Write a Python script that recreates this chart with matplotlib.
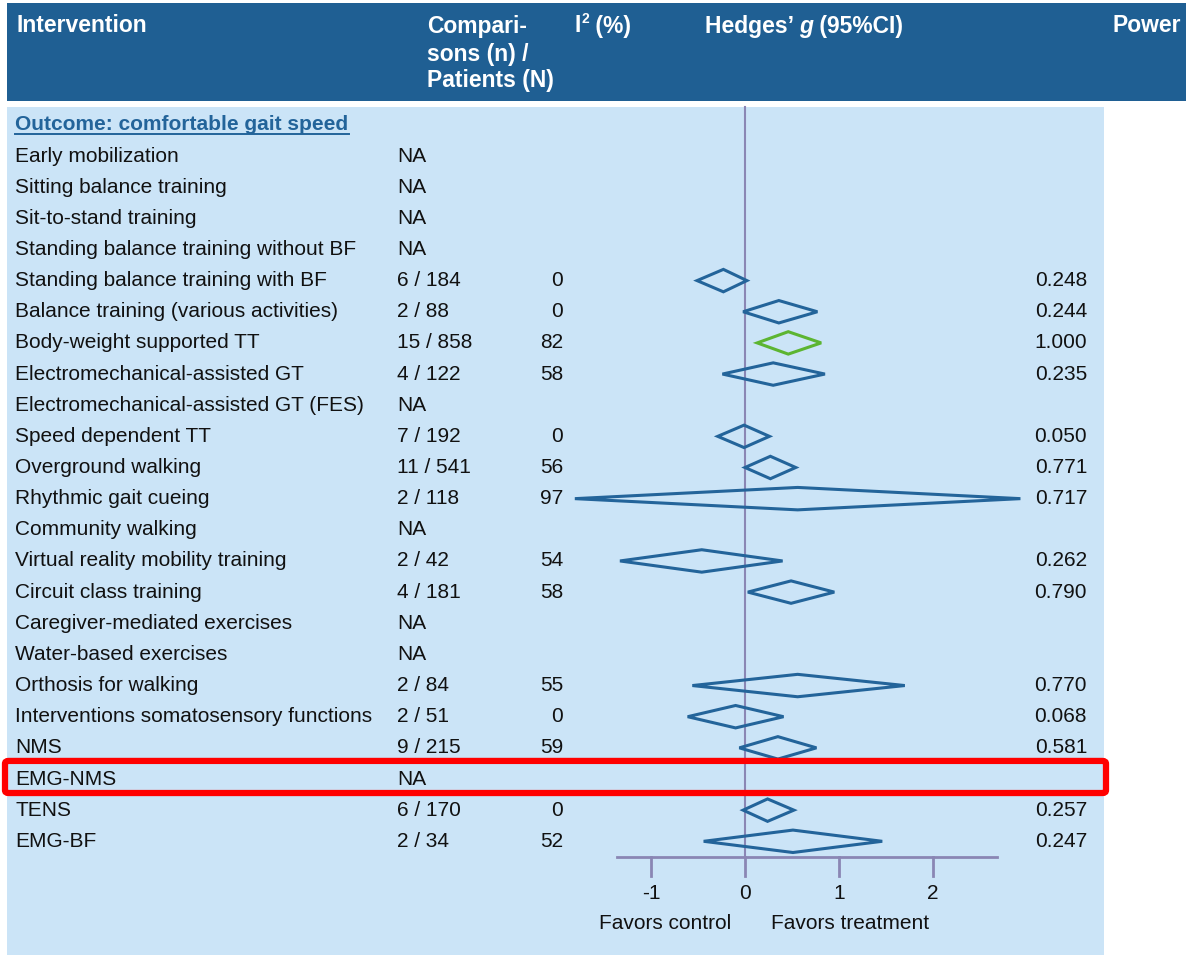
import numpy as np
import matplotlib
matplotlib.use("Agg")
import matplotlib.pyplot as plt
from matplotlib.patches import Rectangle, Polygon, FancyBboxPatch
from matplotlib.transforms import blended_transform_factory

plt.rcParams['font.family'] = ['Liberation Sans', 'DejaVu Sans']

# ---- data ----
interventions = [
    "Early mobilization", "Sitting balance training", "Sit-to-stand training",
    "Standing balance training without BF", "Standing balance training with BF",
    "Balance training (various activities)", "Body-weight supported TT",
    "Electromechanical-assisted GT", "Electromechanical-assisted GT (FES)",
    "Speed dependent TT", "Overground walking", "Rhythmic gait cueing",
    "Community walking", "Virtual reality mobility training",
    "Circuit class training", "Caregiver-mediated exercises",
    "Water-based exercises", "Orthosis for walking",
    "Interventions somatosensory functions", "NMS", "EMG-NMS", "TENS", "EMG-BF",
]
comparisons = ["NA", "NA", "NA", "NA", "6 / 184", "2 / 88", "15 / 858",
               "4 / 122", "NA", "7 / 192", "11 / 541", "2 / 118", "NA",
               "2 / 42", "4 / 181", "NA", "NA", "2 / 84", "2 / 51", "9 / 215",
               "NA", "6 / 170", "2 / 34"]
i2 = ["", "", "", "", "0", "0", "82", "58", "", "0", "56", "97", "", "54",
      "58", "", "", "55", "0", "59", "", "0", "52"]
power = ["", "", "", "", "0.248", "0.244", "1.000", "0.235", "", "0.050",
         "0.771", "0.717", "", "0.262", "0.790", "", "", "0.770", "0.068",
         "0.581", "", "0.257", "0.247"]
# Hedges' g with 95% CI (nan = not available)
g_est = [np.nan, np.nan, np.nan, np.nan, -0.23, 0.36, 0.46, 0.30, np.nan,
         -0.01, 0.27, 0.56, np.nan, -0.46, 0.49, np.nan, np.nan, 0.56, -0.10,
         0.35, np.nan, 0.24, 0.51]
g_lo = [np.nan, np.nan, np.nan, np.nan, -0.51, -0.02, 0.13, -0.24, np.nan,
        -0.29, 0.00, -1.81, np.nan, -1.33, 0.03, np.nan, np.nan, -0.56, -0.61,
        -0.06, np.nan, -0.02, -0.44]
g_hi = [np.nan, np.nan, np.nan, np.nan, 0.02, 0.77, 0.81, 0.85, np.nan,
        0.26, 0.54, 2.93, np.nan, 0.40, 0.95, np.nan, np.nan, 1.70, 0.41,
        0.76, np.nan, 0.52, 1.46]
highlight_row = "Body-weight supported TT"
boxed_row = "EMG-NMS"
ticks = [-1, 0, 1, 2]

HEAD = "#1f5f93"
PANEL = "#cbe4f7"
DIAM = "#23649a"
GREEN = "#5cb531"
AXC = "#8a86b4"
INK = "#111111"

W, H = 1186, 955
fig = plt.figure(figsize=(W / 100, H / 100), dpi=100)
ax = fig.add_axes([0, 0, 1, 1])
# g maps to pixel 745 + 94*g ; row r maps to pixel 156 + 31.15*r
px0, ppu, py0, ppr = 745.0, 94.0, 156.0, 31.15
ax.set_xlim(-px0 / ppu, (W - px0) / ppu)
ax.set_ylim((H - py0) / ppr, -py0 / ppr)
ax.axis("off")
renderer = fig.canvas.get_renderer()

tA = ax.transAxes
def fx(p):
    return p / W
def fy(p):
    return 1 - p / H
tcol = blended_transform_factory(tA, ax.transData)

def chain(x0, y, pieces, **kw):
    # put text pieces one after another starting at pixel x0
    x = x0
    for s, extra in pieces:
        opts = dict(kw)
        opts.update(extra)
        dy = opts.pop("dy", 0)
        t = ax.text(fx(x), fy(y + dy), s, transform=tA, **opts)
        bb = t.get_window_extent(renderer)
        x += bb.width

# header band and panel
ax.add_patch(Rectangle((fx(7), fy(101)), 1 - fx(7), fy(3) - fy(101),
                       transform=tA, color=HEAD, lw=0, zorder=0))
ax.add_patch(Rectangle((fx(7), 0), fx(1104) - fx(7), fy(107),
                       transform=tA, color=PANEL, lw=0, zorder=0))

hk = dict(color="white", fontsize=16.5, fontweight="bold", va="center")
ax.text(fx(16), fy(26), "Intervention", transform=tA, **hk)
for yy, s in zip([27, 54, 81], ["Compari-", "sons (n) /", "Patients (N)"]):
    ax.text(fx(427), fy(yy), s, transform=tA, **hk)
chain(575, 26, [("I", {}), ("2", dict(fontsize=10, dy=-7)),
                (" (%)", {})], **hk)
chain(705, 26, [("Hedges\u2019 ", {}), ("g", dict(fontstyle="italic")),
                (" (95%CI)", {})], **hk)
ax.text(fx(1113), fy(26), "Power", transform=tA, **hk)

ax.text(fx(15), -1, "Outcome: comfortable gait speed", transform=tcol,
        color=DIAM, fontsize=15, fontweight="bold", va="center")
ax.plot([fx(15), fx(349)], [(134 - py0) / ppr] * 2, transform=tcol,
        color=DIAM, lw=1.4)

rows = np.arange(len(interventions))
for r in rows:
    tk = dict(transform=tcol, fontsize=15, color=INK, va="center")
    ax.text(fx(15), r, interventions[r], **tk)
    ax.text(fx(397), r, comparisons[r], **tk)
    ax.text(fx(563), r, i2[r], ha="right", **tk)
    ax.text(fx(1087), r, power[r], ha="right", **tk)
    if not np.isnan(g_est[r]):
        col = GREEN if interventions[r] == highlight_row else DIAM
        hh = 0.36
        ax.add_patch(Polygon([[g_lo[r], r], [g_est[r], r - hh], [g_hi[r], r],
                              [g_est[r], r + hh]], closed=True, fill=False,
                             ec=col, lw=2.2, zorder=3))

# zero line and axis
ybase = (857 - py0) / ppr
ax.plot([0, 0], [(107 - py0) / ppr, ybase], color=AXC, lw=1.5, zorder=2)
ax.plot([-1.36, 2.68], [ybase, ybase], color=AXC, lw=2, zorder=2)
for t in ticks:
    ax.plot([t, t], [ybase, ybase + 0.6], color=AXC, lw=2)
    ax.text(t, (893 - py0) / ppr, str(t), ha="center", va="center",
            fontsize=15, color=INK)
ax.text(-0.85, (923 - py0) / ppr, "Favors control", ha="center", va="center",
        fontsize=15, color=INK)
ax.text(1.12, (923 - py0) / ppr, "Favors treatment", ha="center", va="center",
        fontsize=15, color=INK)

# red highlight box around the flagged row
rb = interventions.index(boxed_row)
ytop, ybot = py0 + (rb - 0.58) * ppr, py0 + (rb + 0.45) * ppr
ax.add_patch(FancyBboxPatch((fx(5), fy(ybot)), fx(1106) - fx(5), fy(ytop) - fy(ybot),
                            boxstyle="round,pad=0,rounding_size=0.003",
                            transform=tA, fill=False, ec="#ff0000", lw=4.5, zorder=5))

fig.savefig("out.png", dpi=100)
